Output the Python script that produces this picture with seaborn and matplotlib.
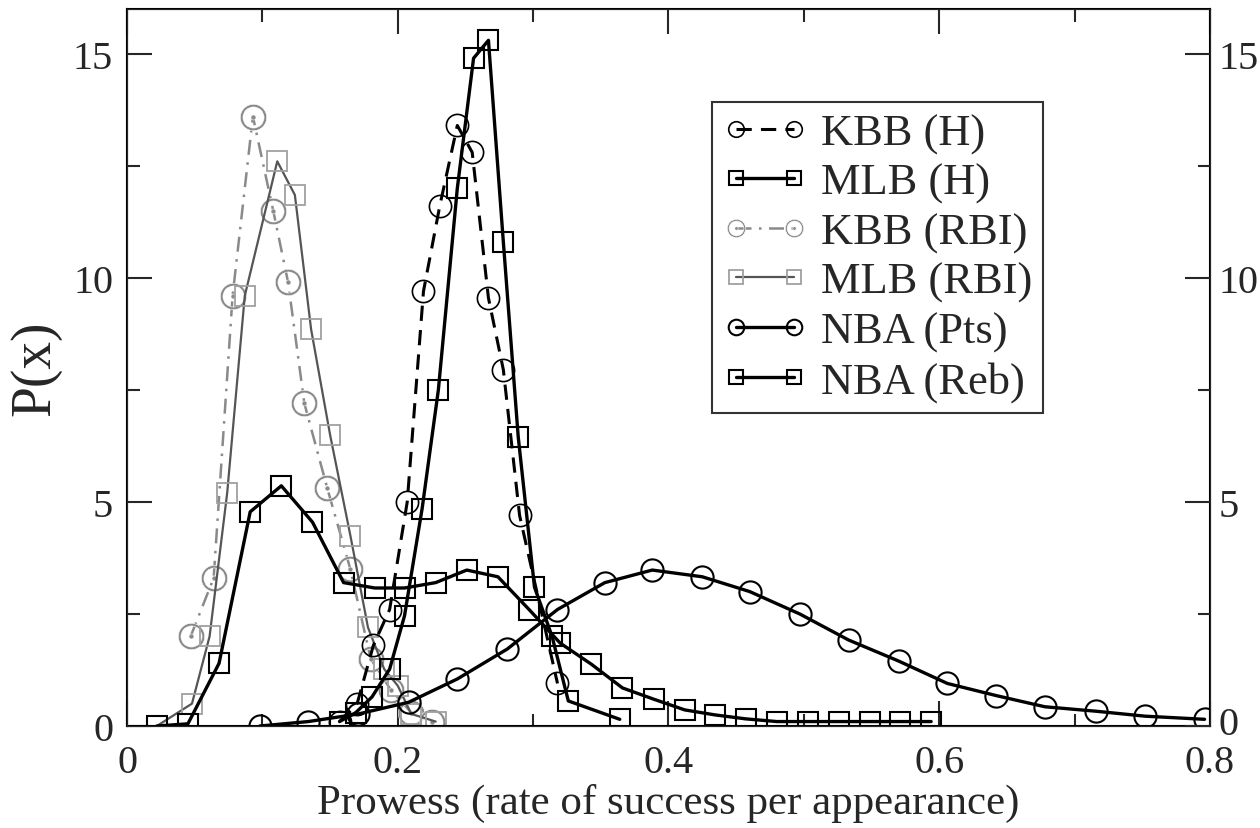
import numpy as np
import matplotlib
matplotlib.use("Agg")
import matplotlib.pyplot as plt
import matplotlib.transforms as mtrans
import seaborn as sns
from matplotlib.ticker import MultipleLocator

# values
kbb_h_x = [0.157, 0.170, 0.182, 0.194, 0.207, 0.219, 0.231, 0.244, 0.255, 0.267, 0.278, 0.290, 0.318]
kbb_h_y = [0.1, 0.5, 1.8, 2.6, 5.0, 9.7, 11.6, 13.4, 12.8, 9.55, 7.95, 4.7, 0.95]

mlb_h_x = [0.157, 0.169, 0.181, 0.194, 0.205, 0.218, 0.230, 0.244, 0.256, 0.267, 0.278, 0.289,
           0.301, 0.314, 0.326, 0.364]
mlb_h_y = [0.1, 0.3, 0.65, 1.27, 2.46, 4.85, 7.5, 12.0, 14.9, 15.3, 10.8, 6.45, 3.1, 2.0, 0.56, 0.15]

kbb_rbi_x = [0.047, 0.064, 0.078, 0.093, 0.108, 0.119, 0.131, 0.148, 0.165, 0.180, 0.195, 0.210, 0.225]
kbb_rbi_y = [2.0, 3.3, 9.6, 13.6, 11.5, 9.9, 7.2, 5.3, 3.5, 1.5, 0.8, 0.3, 0.1]

mlb_rbi_x = [0.022, 0.048, 0.061, 0.074, 0.087, 0.111, 0.124, 0.136, 0.150, 0.165, 0.178, 0.190,
             0.200, 0.210, 0.228]
mlb_rbi_y = [0.0, 0.5, 2.0, 5.2, 9.6, 12.6, 11.85, 8.85, 6.5, 4.25, 2.2, 1.27, 0.9, 0.27, 0.1]

nba_pts_x = [0.098, 0.134, 0.171, 0.208, 0.244, 0.281, 0.318, 0.353, 0.388, 0.425, 0.460, 0.497,
             0.533, 0.570, 0.606, 0.642, 0.678, 0.716, 0.752, 0.796]
nba_pts_y = [0.0, 0.1, 0.27, 0.53, 1.05, 1.72, 2.6, 3.2, 3.48, 3.33, 3.0, 2.5, 1.92, 1.45, 0.95,
             0.68, 0.43, 0.33, 0.22, 0.15]

nba_reb_x = [0.022, 0.045, 0.068, 0.091, 0.114, 0.137, 0.160, 0.183, 0.205, 0.228, 0.251, 0.274,
             0.297, 0.320, 0.343, 0.366, 0.389, 0.412, 0.434, 0.457, 0.480, 0.503, 0.526, 0.549,
             0.571, 0.594]
nba_reb_y = [0.0, 0.05, 1.4, 4.78, 5.36, 4.55, 3.2, 3.08, 3.08, 3.2, 3.48, 3.33, 2.6, 1.85, 1.38,
             0.85, 0.6, 0.36, 0.25, 0.16, 0.1, 0.1, 0.1, 0.1, 0.1, 0.1]

x_ticks = [0, 0.2, 0.4, 0.6, 0.8]
x_ticklabels = ['0', '0.2', '0.4', '0.6', '0.8']
y_ticks = [0, 5, 10, 15]

sns.set_style("ticks")
plt.rcParams['font.family'] = ['Liberation Serif', 'DejaVu Serif']
plt.rcParams['mathtext.fontset'] = 'stix'

fig = plt.figure(figsize=(12.6, 8.29), dpi=100)
ax = fig.add_axes([0.1008, 0.123, 0.8595, 0.865])

ms = 15
# gray RBI curves first so the black ones sit on top
sns.lineplot(x=kbb_rbi_x, y=kbb_rbi_y, ax=ax, sort=False, color='#8a8a8a', lw=1.8,
             linestyle=(0, (6, 3, 1, 3)), marker='$\\odot$', markersize=ms + 4,
             markeredgewidth=0.4, label='KBB (RBI)')
sns.lineplot(x=mlb_rbi_x, y=mlb_rbi_y, ax=ax, sort=False, color='#555555', lw=1.6,
             marker='s', markersize=ms - 1, markerfacecolor='none', markeredgecolor='#a0a0a0',
             markeredgewidth=1.3, label='MLB (RBI)')
sns.lineplot(x=kbb_h_x, y=kbb_h_y, ax=ax, sort=False, color='black', lw=2.2,
             linestyle=(0, (5, 3)), marker='o', markersize=ms + 1, markerfacecolor='none',
             markeredgecolor='black', markeredgewidth=1.2, label='KBB (H)')
sns.lineplot(x=mlb_h_x, y=mlb_h_y, ax=ax, sort=False, color='black', lw=2.4,
             marker='s', markersize=ms - 1, markerfacecolor='none', markeredgecolor='black',
             markeredgewidth=1.5, label='MLB (H)')
sns.lineplot(x=nba_pts_x, y=nba_pts_y, ax=ax, sort=False, color='black', lw=2.4,
             marker='o', markersize=ms + 1, markerfacecolor='none', markeredgecolor='black',
             markeredgewidth=1.5, label='NBA (Pts)')
sns.lineplot(x=nba_reb_x, y=nba_reb_y, ax=ax, sort=False, color='black', lw=2.4,
             marker='s', markersize=ms - 1, markerfacecolor='none', markeredgecolor='black',
             markeredgewidth=1.5, label='NBA (Reb)')

ax.set_xlim(0, 0.8)
ax.set_ylim(0, 16)
ax.set_xticks(x_ticks)
ax.set_xticklabels(x_ticklabels)
ax.set_yticks(y_ticks)
ax.xaxis.set_minor_locator(MultipleLocator(0.1))
ax.yaxis.set_minor_locator(MultipleLocator(2.5))
ax.tick_params(which='both', direction='in', top=True, labelsize=29, width=1.5)
ax.tick_params(axis='x', pad=13)
ax.tick_params(axis='y', pad=10)
ax.tick_params(which='major', length=18)
ax.tick_params(which='minor', length=9)
for s in ax.spines.values():
    s.set_linewidth(1.5)
    s.set_color('black')

ax2 = ax.twinx()
ax2.set_ylim(0, 16)
ax2.set_yticks(y_ticks)
ax2.yaxis.set_minor_locator(MultipleLocator(2.5))
ax2.tick_params(which='both', direction='in', labelsize=29, width=1.5, pad=6)
ax2.tick_params(which='major', length=18)
ax2.tick_params(which='minor', length=9)

# nudge the right-hand "0" up a little so it clears the "0.8" below it
lab0 = ax2.get_yticklabels()[0]
lab0.set_transform(lab0.get_transform() + mtrans.ScaledTranslation(0, 4 / 72, fig.dpi_scale_trans))

ax.set_xlabel('Prowess (rate of success per appearance)', fontsize=31, labelpad=1)
ax.set_ylabel('P(x)', fontsize=40, labelpad=8)

handles, labels = ax.get_legend_handles_labels()
order = ['KBB (H)', 'MLB (H)', 'KBB (RBI)', 'MLB (RBI)', 'NBA (Pts)', 'NBA (Reb)']
hmap = dict(zip(labels, handles))
leg = ax.legend([hmap[k] for k in order], order, loc='upper left', bbox_to_anchor=(0.54, 0.87),
                fontsize=32, frameon=True, fancybox=False, edgecolor='black', numpoints=2,
                handlelength=1.9, handletextpad=0.3, labelspacing=0.2, borderpad=0.25,
                borderaxespad=0, markerscale=0.7)
leg.get_frame().set_linewidth(1.5)

fig.savefig('out.png', dpi=100)
